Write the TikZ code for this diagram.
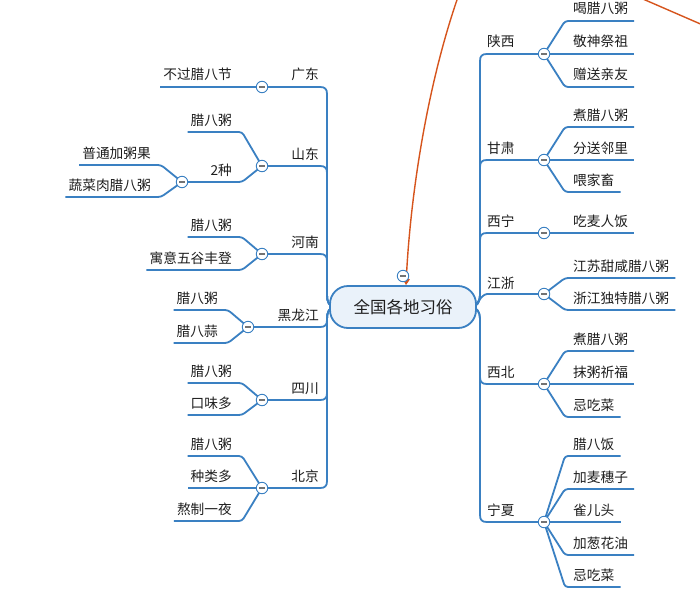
\documentclass[tikz,border=0pt]{standalone}
\usepackage{fontspec}
\setmainfont{Noto Sans CJK SC}
\usetikzlibrary{arrows.meta,calc}
\pgfdeclarelayer{bottom}
\pgfdeclarelayer{links}
\pgfsetlayers{bottom,links,main}
\definecolor{lnblue}{RGB}{58,128,194}
\definecolor{rootfill}{RGB}{234,242,250}
\definecolor{arrowor}{RGB}{214,84,28}
\definecolor{txt}{RGB}{30,30,30}
% right side child: name, parent circle, line y, text
\newcommand\rkid[4]{%
  \node[lab,anchor=base west] (#1) at (573,#3-7) {#4};
  \draw[link] (#2.center) -- ($(#1.base west)+(-8,7)$) -- ($(#1.base east)+(6,7)$);}
% left side child: name, parent circle, line y, text, text right x
\newcommand\lkid[5]{%
  \node[lab,anchor=base east] (#1) at (#5,#3-7) {#4};
  \draw[link] (#2.center) -- ($(#1.base east)+(10,7)$) -- ($(#1.base west)+(-3,7)$);}
% trunks
\newcommand\rup[2]{\draw[trunk] ([xshift=67pt]root.center) .. controls (477,307) and (480,302) .. (480,295) -- (480,#2+7) .. controls (480,#2+2) and (482,#2) .. (487,#2) -- (#1.center);}
\newcommand\rdown[2]{\draw[trunk] ([xshift=67pt]root.center) .. controls (477,307) and (480,312) .. (480,319) -- (480,#2-7) .. controls (480,#2-2) and (482,#2) .. (487,#2) -- (#1.center);}
\newcommand\lup[2]{\draw[trunk] ([xshift=-67pt]root.center) .. controls (329,307) and (327,302) .. (327,295) -- (327,#2+7) .. controls (327,#2+2) and (325,#2) .. (320,#2) -- (#1.center);}
\newcommand\ldown[2]{\draw[trunk] ([xshift=-67pt]root.center) .. controls (329,307) and (327,312) .. (327,319) -- (327,#2-7) .. controls (327,#2-2) and (325,#2) .. (320,#2) -- (#1.center);}
\begin{document}
\begin{tikzpicture}[x=1pt,y=-1pt,
  link/.style={draw=lnblue,line width=1.8pt,rounded corners=3pt},
  trunk/.style={draw=lnblue,line width=1.8pt},
  lab/.style={inner sep=0pt,text=txt,font=\fontsize{13.7}{16}\selectfont},
  rootbox/.style={draw=lnblue,line width=1.8pt,fill=rootfill,rounded corners=18pt,
    minimum width=146pt,minimum height=42pt,inner sep=0pt,
    font=\fontsize{16.5}{20}\selectfont,text=txt},
  fold/.style={circle,draw=lnblue,line width=0.9pt,fill=white,minimum size=11.5pt,inner sep=0pt,
    path picture={\draw[line width=1.4pt,black!55]
      ([xshift=-3pt]path picture bounding box.center) -- ([xshift=3pt]path picture bounding box.center);}},
  orangelink/.style={draw=arrowor,line width=1.4pt},
]
\useasboundingbox (0,0) rectangle (700,591);
\begin{pgfonlayer}{bottom}
\fill[white] (0,0) rectangle (700,591);
\end{pgfonlayer}

\node[rootbox] (root) at (403,307) {全国各地习俗};

% fold circles
\node[fold] (cSX) at (544,54) {};
\node[fold] (cGS) at (544,160) {};
\node[fold] (cXN) at (544,233) {};
\node[fold] (cJZ) at (544,294) {};
\node[fold] (cXB) at (544,384) {};
\node[fold] (cNX) at (544,522) {};
\node[fold] (cGD) at (262,87) {};
\node[fold] (cSD) at (262,166) {};
\node[fold] (c2)  at (182,182) {};
\node[fold] (cHN) at (262,254) {};
\node[fold] (cHL) at (248,327) {};
\node[fold] (cSC) at (262,400) {};
\node[fold] (cBJ) at (262,488) {};

\begin{pgfonlayer}{links}
% level-1 labels
\node[lab,anchor=base west] (tSX) at (487,47) {陕西};
\node[lab,anchor=base west] (tGS) at (487,153) {甘肃};
\node[lab,anchor=base west] (tXN) at (487,226) {西宁};
\node[lab,anchor=base west] (tJZ) at (487,288) {江浙};
\node[lab,anchor=base west] (tXB) at (487,377) {西北};
\node[lab,anchor=base west] (tNX) at (487,515) {宁夏};
\node[lab,anchor=base east] (tGD) at (319,80) {广东};
\node[lab,anchor=base east] (tSD) at (319,159) {山东};
\node[lab,anchor=base east] (tHN) at (319,247) {河南};
\node[lab,anchor=base east] (tHL) at (319,320) {黑龙江};
\node[lab,anchor=base east] (tSC) at (319,393) {四川};
\node[lab,anchor=base east] (tBJ) at (319,481) {北京};

% trunks
\rup{cSX}{54}
\rup{cGS}{160}
\rup{cXN}{233}
\draw[trunk] ([xshift=67pt]root.center) .. controls (478,306) and (480,295) .. (487,294) -- (cJZ.center);
\rdown{cXB}{384}
\rdown{cNX}{522}
\lup{cGD}{87}
\lup{cSD}{166}
\lup{cHN}{254}
\ldown{cHL}{327}
\ldown{cSC}{400}
\ldown{cBJ}{488}

% right children
\rkid{r11}{cSX}{21}{喝腊八粥}
\rkid{r12}{cSX}{54}{敬神祭祖}
\rkid{r13}{cSX}{87}{赠送亲友}
\rkid{r21}{cGS}{127}{煮腊八粥}
\rkid{r22}{cGS}{160}{分送邻里}
\rkid{r23}{cGS}{192}{喂家畜}
\rkid{r31}{cXN}{233}{吃麦人饭}
\rkid{r41}{cJZ}{278}{江苏甜咸腊八粥}
\rkid{r42}{cJZ}{310}{浙江独特腊八粥}
\rkid{r51}{cXB}{351}{煮腊八粥}
\rkid{r52}{cXB}{384}{抹粥祈福}
\rkid{r53}{cXB}{417}{忌吃菜}
\rkid{r61}{cNX}{456}{腊八饭}
\rkid{r62}{cNX}{489}{加麦穗子}
\rkid{r63}{cNX}{522}{雀儿头}
\rkid{r64}{cNX}{555}{加葱花油}
\rkid{r65}{cNX}{587}{忌吃菜}

% left children
\lkid{l11}{cGD}{87}{不过腊八节}{232}
\lkid{l21}{cSD}{132}{腊八粥}{232}
\node[lab,anchor=base east] (l22) at (232,175) {2种};
\draw[link] (cSD.center) -- ($(l22.base east)+(10,7)$) -- (c2.center);
\lkid{l31}{c2}{165}{普通加粥果}{151}
\lkid{l32}{c2}{197}{蔬菜肉腊八粥}{151}
\lkid{l41}{cHN}{237}{腊八粥}{232}
\lkid{l42}{cHN}{270}{寓意五谷丰登}{232}
\lkid{l51}{cHL}{310}{腊八粥}{218}
\lkid{l52}{cHL}{343}{腊八蒜}{218}
\lkid{l61}{cSC}{383}{腊八粥}{232}
\lkid{l62}{cSC}{415}{口味多}{232}
\lkid{l71}{cBJ}{456}{腊八粥}{232}
\lkid{l72}{cBJ}{488}{种类多}{232}
\lkid{l73}{cBJ}{521}{熬制一夜}{232}
\end{pgfonlayer}

% orange relationship lines
\coordinate (os) at (459,-6);
\draw[orangelink,-{Triangle[width=7pt,length=6pt]}] (os) .. controls (426,88) and (410,200) .. ([xshift=3pt]root.north);
\coordinate (o2a) at (636,-4);
\coordinate (o2b) at (712,29);
\draw[orangelink] (o2a) -- (o2b);

\node[fold] (croot) at (403,276) {};
\end{tikzpicture}
\end{document}
